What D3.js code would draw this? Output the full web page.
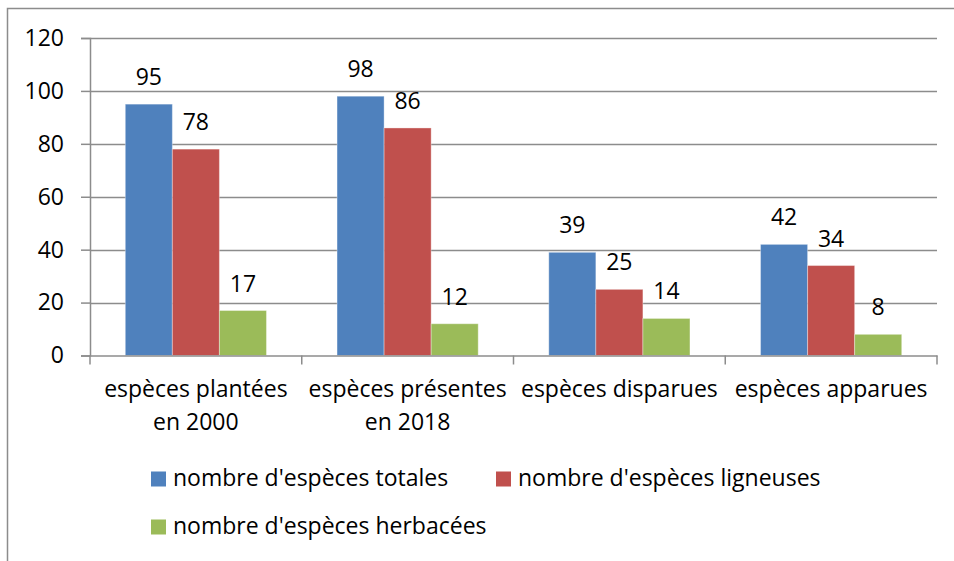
<!DOCTYPE html>
<html>
<head>
<meta charset="utf-8">
<script src="https://cdn.jsdelivr.net/npm/d3@7"></script>
<style>
  html, body { margin: 0; padding: 0; background: #fff; }
  svg { display: block; font-family: "Open Sans", "Noto Sans", sans-serif; }
</style>
</head>
<body>
<svg id="chart" width="954" height="561"></svg>
<script>
// Categories (two-line labels) and the three species counts
const categories = [
  ["espèces plantées", "en 2000"],
  ["espèces présentes", "en 2018"],
  ["espèces disparues"],
  ["espèces apparues"]
];
const seriesNames = [
  "nombre d'espèces totales",
  "nombre d'espèces ligneuses",
  "nombre d'espèces herbacées"
];
const totales   = [95, 98, 39, 42];
const ligneuses = [78, 86, 25, 34];
const herbacees = [17, 12, 14, 8];
const yTicks = [0, 20, 40, 60, 80, 100, 120];
const colors = ["#4F81BD", "#C0504D", "#9BBB59"];

const series = [totales, ligneuses, herbacees];
const svg = d3.select("#chart");
const fontSize = 23;
const gridColor = "#8c8c8c";

// Outer frame of the chart
svg.append("rect")
  .attr("x", 7.5).attr("y", 8.5)
  .attr("width", 960).attr("height", 560)
  .attr("fill", "none").attr("stroke", gridColor).attr("stroke-width", 1.5);

const plot = { left: 90, right: 937, top: 38, bottom: 355.5 };

const x0 = d3.scaleBand()
  .domain(d3.range(categories.length))
  .range([plot.left, plot.right])
  .paddingInner(0).paddingOuter(0);
const groupWidth = x0.bandwidth() * 2 / 3;
const x1 = d3.scaleBand()
  .domain(d3.range(series.length))
  .range([0, groupWidth]);
const y = d3.scaleLinear().domain([0, 120]).range([plot.bottom, plot.top]);

// Horizontal gridlines
svg.append("g")
  .selectAll("line")
  .data(yTicks.filter(t => t > 0))
  .join("line")
  .attr("x1", plot.left).attr("x2", plot.right)
  .attr("y1", d => Math.round(y(d)) + 0.5).attr("y2", d => Math.round(y(d)) + 0.5)
  .attr("stroke", gridColor).attr("stroke-width", 1.5);

// Y axis
const yAxis = svg.append("g")
  .attr("transform", `translate(${plot.left},0)`)
  .call(d3.axisLeft(y).tickValues(yTicks).tickSize(9).tickPadding(17).tickFormat(d3.format("d")));
yAxis.select(".domain").attr("stroke", gridColor).attr("stroke-width", 1.5);
yAxis.selectAll(".tick line").attr("stroke", gridColor).attr("stroke-width", 1.5);
yAxis.selectAll("text").attr("font-size", fontSize).attr("fill", "#000")
  .attr("font-family", "\"Open Sans\", sans-serif");

// Bars
const groups = svg.append("g")
  .selectAll("g")
  .data(categories.map((c, i) => i))
  .join("g")
  .attr("transform", i => `translate(${x0(i) + (x0.bandwidth() - groupWidth) / 2},0)`);

groups.selectAll("rect")
  .data(i => series.map((s, k) => ({ k, v: s[i] })))
  .join("rect")
  .attr("x", d => x1(d.k))
  .attr("width", x1.bandwidth())
  .attr("y", d => y(d.v))
  .attr("height", d => y(0) - y(d.v))
  .attr("fill", d => colors[d.k])
  .attr("stroke", "rgba(255,255,255,0.35)")
  .attr("stroke-width", 1);

// Value labels
groups.selectAll("text.val")
  .data(i => series.map((s, k) => ({ k, v: s[i] })))
  .join("text")
  .attr("class", "val")
  .attr("x", d => x1(d.k) + x1.bandwidth() / 2)
  .attr("y", d => y(d.v) - 19)
  .attr("text-anchor", "middle")
  .attr("font-size", fontSize)
  .text(d => d.v);

// X axis line and category ticks
const xAxis = svg.append("g")
  .attr("transform", `translate(0,${plot.bottom})`)
  .call(d3.axisBottom(x0).tickSize(0).tickFormat(""));
xAxis.select(".domain").attr("stroke", gridColor).attr("stroke-width", 1.5);
svg.append("g")
  .selectAll("line")
  .data(d3.range(categories.length + 1))
  .join("line")
  .attr("x1", i => plot.left + i * x0.bandwidth())
  .attr("x2", i => plot.left + i * x0.bandwidth())
  .attr("y1", plot.bottom).attr("y2", plot.bottom + 9)
  .attr("stroke", gridColor).attr("stroke-width", 1.5);

// Category labels
svg.append("g")
  .selectAll("text")
  .data(categories.map((c, i) => ({ c, i })))
  .join("text")
  .attr("x", d => x0(d.i) + x0.bandwidth() / 2)
  .attr("y", 397)
  .attr("text-anchor", "middle")
  .attr("font-size", fontSize)
  .selectAll("tspan")
  .data(d => d.c.map((line, j) => ({ line, j, cx: x0(d.i) + x0.bandwidth() / 2 })))
  .join("tspan")
  .attr("x", d => d.cx)
  .attr("dy", d => d.j === 0 ? 0 : 33)
  .text(d => d.line);

// Legend
const legendPos = [[151, 479], [496, 479], [151, 527]];
const legend = svg.append("g")
  .selectAll("g")
  .data(seriesNames.map((n, k) => ({ n, k })))
  .join("g")
  .attr("transform", d => `translate(${legendPos[d.k][0]},${legendPos[d.k][1]})`);
legend.append("rect")
  .attr("x", 0).attr("y", -7.5).attr("width", 15).attr("height", 15)
  .attr("fill", d => colors[d.k]);
legend.append("text")
  .attr("x", 22).attr("y", 7)
  .attr("font-size", fontSize)
  .text(d => d.n);
</script>
</body>
</html>
